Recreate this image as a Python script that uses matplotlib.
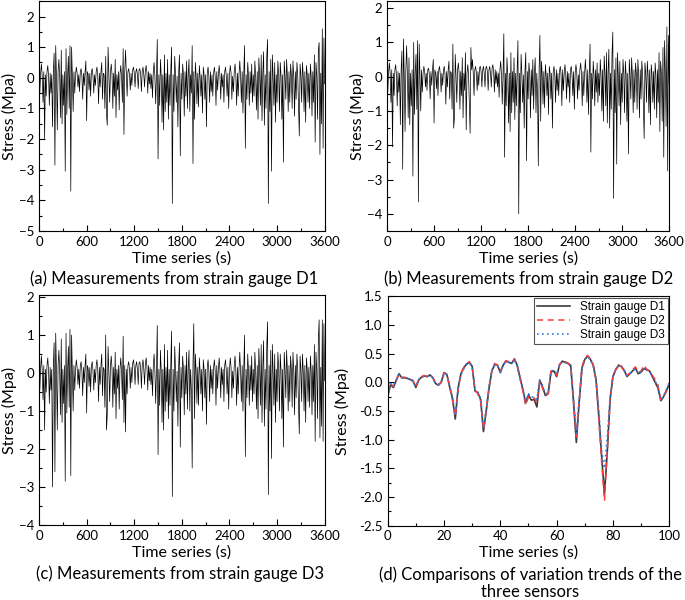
import numpy as np
import matplotlib
matplotlib.use('Agg')
import matplotlib.pyplot as plt
from matplotlib.ticker import MultipleLocator, FormatStrFormatter

plt.rcParams['font.family'] = ['Lato', 'DejaVu Sans']

# stress readings, one value every 10 s (0..3600 s)
d1_long = [
    0.1, -0.5, 0.15, 0.45, 0.05, -0.8, 0.2, -2.0, 0.1, -0.6,
    0.2, 0.4, 0.05, -0.9, 0.15, -0.5, 0.1, -1.6, 0.2, 0.8,
    -2.85, 1.05, 0.0, -1.7, 0.2, 0.6, 0.05, -1.3, 0.9, -1.5,
    0.1, -0.9, 0.2, -3.05, 0.95, -1.2, 0.1, 0.7, -1.0, 1.05,
    -3.7, 1.0, 0.05, -1.1, 0.2, -0.5, 0.1, 0.35, 0.15, -0.3,
    0.1, -0.45, 0.2, 0.3, 0.05, -0.7, 0.15, -0.25, 0.2, 0.55,
    -1.4, 0.2, 0.1, -0.4, 0.15, -0.6, 0.2, 0.3, 0.05, -0.5,
    0.1, -0.25, 0.2, 0.35, 0.05, -0.85, 0.15, -0.3, 0.2, 0.5,
    -0.7, 0.15, 0.1, -1.0, 0.7, -1.2, -1.55, 1.0, 0.05, -0.8,
    0.2, 0.45, 0.1, -1.0, 0.15, -0.6, 0.6, -1.3, 0.1, -0.4,
    0.2, -1.05, 0.1, 0.4, 0.05, -0.8, 0.95, -1.85, 0.2, 0.9,
    0.1, -0.6, 0.2, 0.3, 0.1, -0.4, 0.15, -0.25, 0.25, 0.35,
    0.15, -0.3, 0.2, 0.3, 0.1, -0.35, 0.25, 0.3, 0.15, -0.45,
    0.2, 0.35, 0.1, -0.3, 0.25, 0.4, 0.15, -0.5, 0.2, -0.2,
    0.15, -0.35, 0.1, -0.65, 0.2, 0.5, 0.05, -0.85, 0.1, 1.25,
    -2.65, 0.1, -0.9, 0.6, 0.05, -1.45, 0.1, -1.7, 0.75, -1.1,
    0.15, -0.8, 0.6, -1.35, 0.1, -0.9, 0.2, 1.0, -4.1, 0.1,
    -1.1, 0.7, 0.1, -0.8, 0.05, -1.6, 0.2, 0.75, -2.55, 0.15,
    -0.7, 0.45, 0.1, -1.25, 0.2, -0.6, 0.55, -1.0, 0.1, 0.6,
    -1.1, 0.1, -0.5, 1.05, -2.8, 0.2, -1.35, 0.5, 0.05, -0.85,
    0.15, -0.95, 0.4, 0.05, -0.6, 0.1, -1.15, 0.35, 0.1, -0.7,
    0.1, -1.6, 0.15, 0.35, 0.05, -0.8, 0.2, -0.45, 0.1, -0.6,
    0.15, 0.35, 0.05, -0.9, 0.2, -0.4, 0.1, 0.4, 0.05, -0.7,
    0.15, -0.3, 0.1, -0.8, 0.2, 0.35, 0.05, -0.6, 0.15, -1.0,
    0.1, 0.4, 0.15, -0.7, 0.05, -0.45, 0.2, 0.45, 0.1, -0.9,
    0.15, -0.6, 0.1, 0.55, 0.05, -0.8, 0.2, -1.15, 0.1, 1.05,
    -2.3, 0.1, -0.7, 0.5, 0.05, -0.9, 0.2, -0.5, 0.45, -0.8,
    0.1, -0.6, 0.55, 0.05, -1.05, 0.2, -1.35, 0.65, 0.1, -0.9,
    0.75, -1.4, 0.15, 0.85, -1.55, 0.1, -1.0, 0.7, 1.25, -4.1,
    0.2, -1.1, 0.6, -3.05, 0.75, 0.05, -0.9, 0.5, -1.45, 0.1,
    -0.8, 0.55, 0.1, -1.1, 0.5, 0.05, -1.35, 0.1, -2.75, 0.55,
    0.1, -0.7, 0.6, 0.05, -1.1, 0.2, -0.8, 0.45, 0.1, -1.0,
    0.55, 0.05, -1.25, 0.2, -0.7, 0.5, 0.1, -0.9, -1.9, 0.45,
    0.1, -0.8, 0.5, 0.05, -1.1, 0.2, -1.45, 0.4, 0.1, -0.8,
    0.15, -1.0, 0.45, 0.05, -1.25, 0.2, -0.8, 0.75, -2.1, 0.5,
    0.1, -1.35, 0.9, 1.15, -2.5, 0.15, -1.5, 1.6, -2.3, 1.3,
    -0.2]

d2_long = [
    0.1, -0.45, 0.15, 0.4, 0.1, -0.75, 0.2, -2.05, 0.1, -0.55,
    0.2, 0.35, 0.05, -0.85, 0.15, -0.45, 0.1, -1.4, 0.2, 0.75,
    -2.7, 1.1, 0.0, -1.6, 0.2, 0.9, 0.05, -1.2, 0.55, -1.4,
    0.1, -0.85, 0.2, -2.9, 1.0, -1.1, 0.1, 0.65, -0.95, 1.05,
    -3.65, 0.95, 0.05, -1.0, 0.2, -0.45, 0.1, 0.3, 0.15, -0.3,
    0.1, -0.4, 0.2, 0.25, 0.05, -0.65, 0.15, -0.25, 0.2, 0.5,
    -1.35, 0.2, 0.1, -0.35, 0.15, -0.55, 0.2, 0.3, 0.05, -0.45,
    0.1, -0.25, 0.2, 0.3, 0.05, -0.8, 0.15, -0.3, 0.2, 0.45,
    -0.65, 0.15, 0.1, -0.95, 0.95, -1.5, -1.2, 0.65, 0.05, -0.75,
    0.2, 0.4, 0.1, -0.95, 0.15, -0.55, 0.55, -1.2, 0.1, -0.4,
    0.7, -1.55, 0.1, 0.35, 0.05, -0.75, -1.65, 0.85, 0.2, 0.5,
    0.1, -0.55, 0.2, 0.3, 0.1, -0.4, 0.15, -0.25, 0.25, 0.3,
    0.15, -0.3, 0.2, 0.3, 0.1, -0.3, 0.25, 0.3, 0.15, -0.4,
    0.2, 0.3, 0.1, -0.3, 0.25, 0.35, 0.15, -0.45, 0.2, -0.2,
    0.15, -0.3, 0.1, -0.6, 0.2, 0.45, 0.05, -0.8, 0.1, 1.25,
    -2.35, 0.1, -0.85, 0.55, 0.05, -1.35, 0.1, -1.6, 0.7, -1.05,
    0.15, -0.75, 0.55, -1.25, 0.1, -0.85, 0.2, 1.05, -4.0, 0.1,
    -1.05, 0.65, 0.1, -0.75, 0.05, -1.5, 0.2, 0.7, -2.45, 0.15,
    -0.65, 0.4, 0.1, -1.2, 0.2, -0.55, 0.5, -0.95, 0.1, 0.55,
    -1.05, 0.1, -0.45, -2.6, 0.2, 1.2, -1.3, 0.45, 0.05, -0.8,
    0.15, -0.9, 0.35, 0.05, -0.55, 0.1, -1.1, 0.3, 0.1, -0.65,
    0.1, -1.5, 0.15, 0.3, 0.05, -0.75, 0.2, -0.4, 0.1, -0.55,
    0.15, 0.3, 0.05, -0.85, 0.2, -0.4, 0.1, 0.35, 0.05, -0.65,
    0.15, -0.3, 0.1, -0.75, 0.2, 0.3, 0.05, -0.55, 0.15, -0.95,
    0.1, 0.35, 0.15, -0.65, 0.05, -0.4, 0.2, 0.4, 0.1, -0.85,
    0.15, -0.55, 0.1, 0.5, 0.05, -0.75, 0.2, -1.1, 0.1, 0.95,
    -2.2, 0.1, -0.65, 0.45, 0.05, -0.85, 0.2, -0.45, 0.4, -0.75,
    0.1, -0.55, 0.5, 0.05, -1.0, 0.2, -1.3, 0.6, 0.1, -0.85,
    0.7, -1.35, 0.15, 0.8, -1.5, 0.1, -0.95, 0.65, 1.3, -3.55,
    0.2, -1.05, 0.55, -2.55, 0.7, 0.05, -0.85, 0.45, -1.4, 0.1,
    -0.75, 0.5, 0.1, -1.05, 0.45, 0.05, -1.3, 0.1, -2.25, 0.5,
    0.1, -0.65, 0.55, 0.05, -1.05, 0.2, -0.75, 0.4, 0.1, -0.95,
    0.5, 0.05, -1.2, 0.2, -0.65, 0.45, 0.1, -0.85, -1.8, 0.4,
    0.1, -0.75, 0.45, 0.05, -1.05, 0.2, -1.4, 0.35, 0.1, -0.75,
    0.15, -0.95, 0.4, 0.05, -1.2, 0.2, -0.75, 0.7, -1.6, 0.45,
    0.1, -1.3, 0.85, -2.35, 1.05, 0.15, -1.45, 1.45, -2.75, 1.2,
    -0.2]

d3_long = [
    0.1, -0.45, 0.15, 0.45, 0.05, -0.7, 0.2, -1.5, 0.1, -0.5,
    0.2, 0.4, 0.05, -0.8, 0.15, -0.45, 0.1, -3.0, 0.2, 0.8,
    -2.6, 1.05, 0.0, -1.5, 0.2, 0.6, 0.05, -1.1, 0.9, -1.3,
    0.1, -0.8, 0.2, -2.85, 1.05, -1.05, 0.1, 0.7, -0.9, 1.15,
    -2.7, 1.0, 0.05, -1.0, 0.2, -0.45, 0.1, 0.35, 0.15, -0.3,
    0.1, -0.4, 0.2, 0.3, 0.05, -0.6, 0.15, -0.25, 0.2, 0.5,
    -1.05, 0.2, 0.1, -0.35, 0.15, -0.5, 0.2, 0.3, 0.05, -0.45,
    0.1, -0.25, 0.2, 0.35, 0.05, -0.75, 0.15, -0.3, 0.2, 0.5,
    -0.6, 0.15, 0.1, -0.9, 1.0, -1.5, -1.1, 0.7, 0.05, -0.75,
    0.2, 0.45, 0.1, -0.9, 0.15, -0.55, 0.55, -1.2, 0.1, -0.4,
    0.2, -0.95, 0.1, 0.4, 0.05, -0.7, 0.97, -1.3, 0.2, -1.55,
    0.1, -0.55, 0.2, 0.3, 0.1, -0.4, 0.15, -0.25, 0.25, 0.35,
    0.15, -0.3, 0.2, 0.3, 0.1, -0.3, 0.25, 0.3, 0.15, -0.4,
    0.2, 0.35, 0.1, -0.3, 0.25, 0.4, 0.15, -0.45, 0.2, -0.2,
    0.15, -0.3, 0.1, -0.6, 0.2, 0.5, 0.05, -0.8, 0.1, 1.25,
    -2.15, 0.1, -0.85, 0.6, 0.05, -1.3, 0.1, -1.5, 0.75, -1.0,
    0.15, -0.75, 0.6, -1.2, 0.1, -0.85, 0.2, 1.1, -3.25, 0.1,
    -1.0, 0.7, 0.1, -0.75, 0.05, -1.4, 0.2, 0.8, -1.95, 0.15,
    -0.65, 0.45, 0.1, -1.1, 0.2, -0.55, 0.55, -0.95, 0.1, 0.6,
    -1.0, 0.1, -0.45, -2.5, 0.2, 1.3, -1.2, 0.5, 0.05, -0.8,
    0.15, -0.85, 0.4, 0.05, -0.55, 0.1, -1.0, 0.35, 0.1, -0.65,
    0.1, -1.35, 0.15, 0.35, 0.05, -0.75, 0.2, -0.4, 0.1, -0.55,
    0.15, 0.35, 0.05, -0.85, 0.2, -0.4, 0.1, 0.4, 0.05, -0.65,
    0.15, -0.3, 0.1, -0.75, 0.2, 0.35, 0.05, -0.55, 0.15, -0.95,
    0.1, 0.4, 0.15, -0.65, 0.05, -0.4, 0.2, 0.45, 0.1, -0.85,
    0.15, -0.55, 0.1, 0.55, 0.05, -0.75, 0.2, -1.0, 0.1, 1.0,
    -2.2, 0.1, -0.65, 0.5, 0.05, -0.85, 0.2, -0.45, 0.45, -0.75,
    0.1, -0.55, 0.55, 0.05, -0.95, 0.2, -1.2, 0.65, 0.1, -0.85,
    0.75, -1.3, 0.15, 0.85, -1.4, 0.1, -0.95, 0.7, 1.35, -3.2,
    0.2, -1.0, 0.6, -2.25, 0.75, 0.05, -0.85, 0.5, -1.3, 0.1,
    -0.75, 0.55, 0.1, -1.0, 0.5, 0.05, -1.2, 0.1, -1.95, 0.55,
    0.1, -0.65, 0.6, 0.05, -1.0, 0.2, -0.75, 0.45, 0.1, -0.9,
    0.55, 0.05, -1.1, 0.2, -0.65, 0.5, 0.1, -0.85, -1.6, 0.45,
    0.1, -0.75, 0.5, 0.05, -1.0, 0.2, -1.3, 0.4, 0.1, -0.75,
    0.15, -0.9, 0.45, 0.05, -1.1, 0.2, -0.75, 0.75, -1.8, 0.55,
    0.1, -1.2, 0.9, 1.4, -1.7, 0.15, -1.4, 1.4, -1.8, 1.3,
    -0.2]

# first 100 s, one value per second
d1_short = [
    -0.25, -0.04, -0.09, 0.03, 0.15, 0.08, 0.08, 0.07, 0.05, 0.02,
    -0.09, 0.04, 0.09, 0.11, 0.10, 0.13, 0.08, -0.02, -0.05, 0.0,
    0.17, 0.14, -0.08, -0.28, -0.64, -0.1, 0.15, 0.25, 0.32, 0.35,
    0.28, -0.15, -0.18, -0.3, -0.86, -0.5, -0.1, 0.2, 0.31, 0.3,
    0.17, 0.3, 0.37, 0.35, 0.33, 0.41, 0.3, 0.08, -0.12, -0.36,
    -0.22, -0.31, -0.3, -0.43, 0.04, -0.08, -0.23, -0.2, 0.18, 0.2,
    0.1, 0.3, 0.37, 0.35, 0.33, 0.3, -0.35, -1.05, -0.35, 0.25,
    0.4, 0.46, 0.4, 0.3, 0.05, -0.6, -1.3, -1.95, -1.2, -0.3,
    0.1, 0.22, 0.3, 0.28, 0.21, 0.1, 0.15, 0.2, 0.25, 0.15,
    0.18, 0.24, 0.22, 0.2, 0.1, 0.0, -0.1, -0.32, -0.25, -0.15,
    -0.02]
d2_short = [
    -0.22, -0.02, -0.07, 0.04, 0.14, 0.08, 0.09, 0.07, 0.06, 0.03,
    -0.08, 0.05, 0.1, 0.12, 0.1, 0.12, 0.09, -0.01, -0.05, 0.01,
    0.16, 0.15, -0.06, -0.3, -0.6, -0.12, 0.14, 0.26, 0.33, 0.36,
    0.27, -0.13, -0.2, -0.32, -0.83, -0.48, -0.08, 0.22, 0.33, 0.3,
    0.19, 0.31, 0.38, 0.36, 0.34, 0.4, 0.28, 0.06, -0.15, -0.4,
    -0.25, -0.28, -0.27, -0.35, 0.02, -0.1, -0.22, -0.2, 0.2, 0.21,
    0.12, 0.31, 0.38, 0.36, 0.34, 0.3, -0.3, -0.95, -0.32, 0.27,
    0.42, 0.47, 0.41, 0.31, 0.04, -0.65, -1.4, -2.07, -1.15, -0.28,
    0.12, 0.23, 0.31, 0.27, 0.2, 0.12, 0.16, 0.22, 0.27, 0.17,
    0.2, 0.3, 0.23, 0.2, 0.12, 0.05, -0.05, -0.3, -0.25, -0.13,
    -0.02]
d3_short = [
    -0.2, -0.02, -0.05, 0.04, 0.13, 0.09, 0.08, 0.07, 0.05, 0.03,
    -0.07, 0.05, 0.09, 0.11, 0.1, 0.12, 0.08, -0.02, -0.04, 0.01,
    0.15, 0.13, -0.06, -0.26, -0.58, -0.12, 0.13, 0.24, 0.31, 0.34,
    0.27, -0.12, -0.17, -0.28, -0.8, -0.46, -0.08, 0.2, 0.3, 0.29,
    0.18, 0.3, 0.36, 0.35, 0.32, 0.39, 0.29, 0.08, -0.1, -0.33,
    -0.2, -0.26, -0.25, -0.3, 0.03, -0.06, -0.2, -0.18, 0.19, 0.22,
    0.14, 0.3, 0.36, 0.35, 0.32, 0.28, -0.28, -0.9, -0.3, 0.24,
    0.4, 0.45, 0.39, 0.28, 0.05, -0.5, -1.2, -1.5, -0.95, -0.25,
    0.1, 0.22, 0.29, 0.27, 0.2, 0.11, 0.15, 0.2, 0.24, 0.15,
    0.18, 0.25, 0.22, 0.19, 0.1, 0.02, -0.08, -0.3, -0.24, -0.12,
    -0.02]

t_long = np.arange(len(d1_long)) * 10
t_short = np.arange(len(d1_short))

captions = ['(a) Measurements from strain gauge D1',
            '(b) Measurements from strain gauge D2',
            '(c) Measurements from strain gauge D3',
            '(d) Comparisons of variation trends of the\nthree sensors']

fig = plt.figure(figsize=(6.85, 6.0), dpi=100)
boxes = [[0.057, 0.615, 0.417, 0.383],
         [0.565, 0.615, 0.412, 0.383],
         [0.057, 0.125, 0.417, 0.383],
         [0.566, 0.124, 0.411, 0.382]]
axs = [fig.add_axes(b) for b in boxes]
ylab_x = [-0.077, -0.078, -0.077, -0.134]

def style(ax, yx):
    ax.tick_params(which='both', direction='in', labelsize=9.5, width=0.8)
    ax.tick_params(which='major', length=4)
    ax.tick_params(which='minor', length=2)
    for s in ax.spines.values():
        s.set_linewidth(0.8)
    ax.set_xlabel('Time series (s)', fontsize=11.5)
    ax.set_ylabel('Stress (Mpa)', fontsize=11.5)
    ax.xaxis.set_label_coords(0.5, -0.088)
    ax.yaxis.set_label_coords(yx, 0.5)

ylims = [(-5, 2.5), (-4.5, 2.2), (-4, 2.05)]
for i, (d, yl) in enumerate(zip([d1_long, d2_long, d3_long], ylims)):
    ax = axs[i]
    ax.plot(t_long, d, color='black', lw=0.5)
    ax.set_xlim(0, 3600)
    ax.set_ylim(*yl)
    ax.xaxis.set_major_locator(MultipleLocator(600))
    ax.xaxis.set_minor_locator(MultipleLocator(300))
    ax.yaxis.set_major_locator(MultipleLocator(1))
    ax.yaxis.set_minor_locator(MultipleLocator(0.5))
    style(ax, ylab_x[i])

ax = axs[3]
ax.plot(t_short, d1_short, color='#3c3c3c', lw=1.2, label='Strain gauge D1')
ax.plot(t_short, d2_short, color='#ff3b3b', lw=1.1, ls=(0, (4, 3)), label='Strain gauge D2')
ax.plot(t_short, d3_short, color='#2a7de8', lw=1.2, ls=(0, (1, 2)), label='Strain gauge D3')
ax.set_xlim(0, 100)
ax.set_ylim(-2.5, 1.5)
ax.xaxis.set_major_locator(MultipleLocator(20))
ax.xaxis.set_minor_locator(MultipleLocator(10))
ax.yaxis.set_major_locator(MultipleLocator(0.5))
ax.yaxis.set_minor_locator(MultipleLocator(0.25))
ax.yaxis.set_major_formatter(FormatStrFormatter('%.1f'))
style(ax, ylab_x[3])
leg = ax.legend(loc='upper right', prop={'family': 'Liberation Sans', 'size': 8.5},
                frameon=True, fancybox=False, edgecolor='#555555', framealpha=1,
                borderpad=0.3, labelspacing=0.15, handlelength=2.8, borderaxespad=0.1)
leg.get_frame().set_linewidth(0.8)

cap_pos = [(0.254, 0.536), (0.771, 0.536), (0.263, 0.044), (0.774, 0.028)]
for c, (x, y) in zip(captions, cap_pos):
    fig.text(x, y, c, ha='center', va='center', fontsize=12, linespacing=1.15)

fig.savefig('out.png', dpi=100)
